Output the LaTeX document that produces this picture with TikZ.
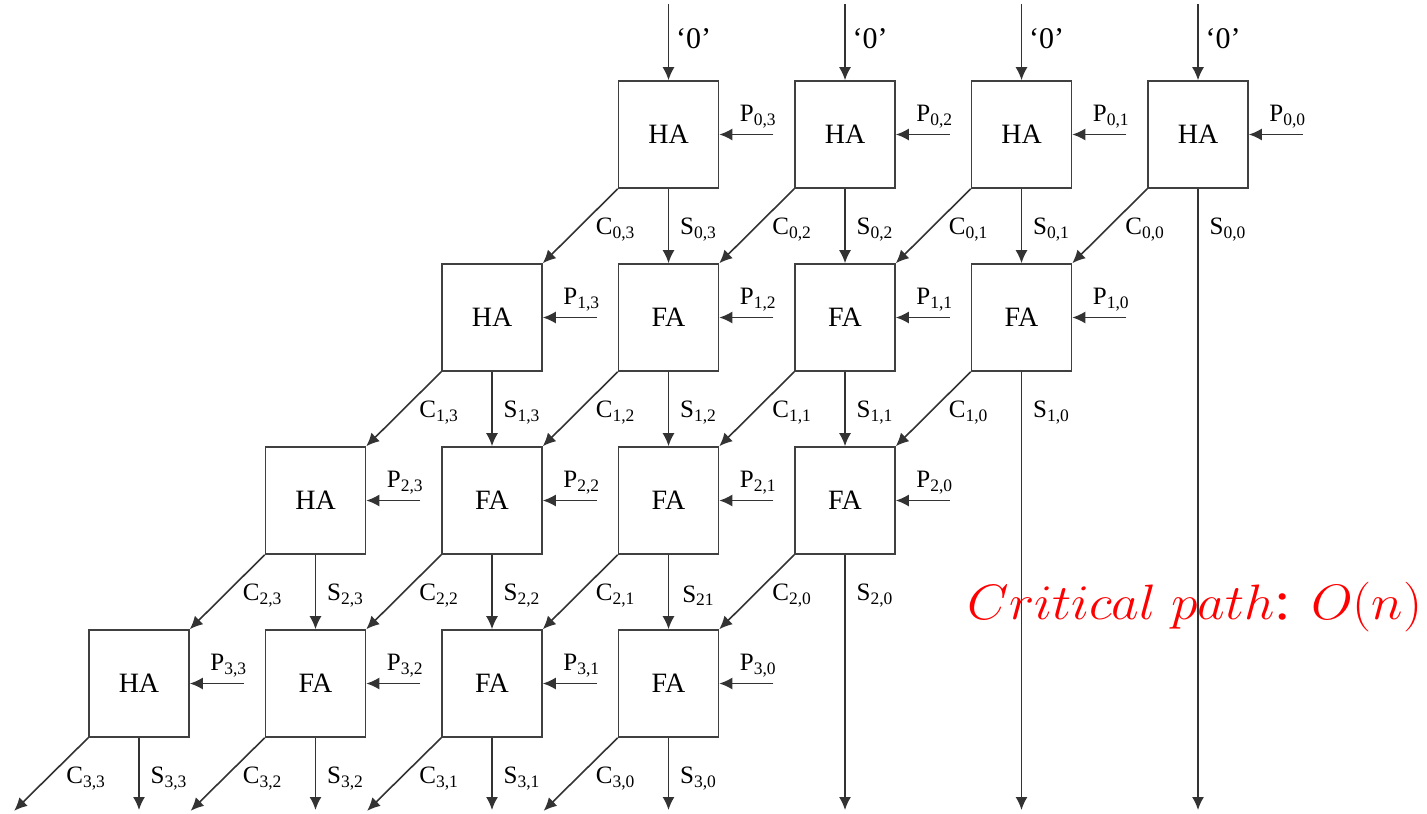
\documentclass[tikz,border=0pt]{standalone}
\usepackage{fontspec}
\setmainfont{Liberation Serif}
\usetikzlibrary{arrows.meta}
\begin{document}
\begin{tikzpicture}[x=0.5pt,y=-0.5pt,
  blk/.style={draw=black!75, line width=0.8pt, minimum width=50pt, minimum height=53.5pt, inner sep=0pt, font=\fontsize{14}{16}\selectfont},
  wire/.style={draw=black!80, line width=0.8pt, -{Latex[length=6.5pt,width=6pt]}},
  lbl/.style={font=\fontsize{12.5}{14}\selectfont, inner sep=0pt},
  zero/.style={font=\fontsize{15}{17}\selectfont, inner sep=0pt},
  crit/.style={text=red, font=\fontsize{27.5}{31}\selectfont, inner sep=0pt}]
\useasboundingbox (0,0) rectangle (1427,813);
% blocks
\foreach \i in {0,...,3} {
  \foreach \j in {0,...,3} {
    \pgfmathsetmacro\xx{139+176.5*(6-\i-\j)}
    \pgfmathsetmacro\yy{134.5+183*\i}
    \node[blk] (b\i\j) at (\xx,\yy) {\ifnum\i=0 HA\else\ifnum\j=3 HA\else FA\fi\fi};
  }
}
% top '0' inputs
\foreach \j in {0,...,3} {
  \coordinate (t\j) at ([yshift=38pt]b0\j.north);
  \draw[wire] (t\j) -- (b0\j.north);
  \node[zero] (z\j) at ([xshift=12.5pt,yshift=21pt]b0\j.north) {`0'};
}
% partial products
\foreach \i in {0,...,3} {
  \foreach \j in {0,...,3} {
    \coordinate (p\i\j) at ([xshift=27pt]b\i\j.east);
    \draw[wire] (p\i\j) -- (b\i\j.east);
    \node[lbl] (lp\i\j) at ([xshift=19.5pt,yshift=9pt]b\i\j.east) {P\textsubscript{\i,\j}};
  }
}
% sums and carries
\foreach \i in {0,...,3} {
  \foreach \j in {0,...,3} {
    \pgfmathtruncatemacro\ni{\i+1}
    \pgfmathtruncatemacro\nj{\j-1}
    \ifnum\i<3
      \ifnum\j>0
        \draw[wire] (b\i\j.south) -- (b\ni\nj.north);
      \else
        \path (b\i\j.south) coordinate (tmp);
        \coordinate (s\i\j) at (tmp |- 0,810);
        \draw[wire] (b\i\j.south) -- (s\i\j);
      \fi
      \draw[wire] (b\i\j.south west) -- (b\ni\j.north east);
    \else
      \path (b\i\j.south) coordinate (tmp);
      \coordinate (s\i\j) at (tmp |- 0,810);
      \draw[wire] (b\i\j.south) -- (s\i\j);
      \coordinate (c\i\j) at ([shift={(-37pt,-36.5pt)}]b\i\j.south west);
      \draw[wire] (b\i\j.south west) -- (c\i\j);
    \fi
    \node[lbl] (ls\i\j) at ([xshift=15pt,yshift=-20.5pt]b\i\j.south)
      {S\textsubscript{\ifnum\i=2 \ifnum\j=1 21\else\i,\j\fi\else\i,\j\fi}};
    \node[lbl] (lc\i\j) at ([xshift=-1pt,yshift=-20.5pt]b\i\j.south west) {C\textsubscript{\i,\j}};
  }
}
\node[crit] (crit) at (1195,607) {\scalebox{1.08}[1]{$Critical\ path$: $O(n)$}};
\end{tikzpicture}
\end{document}
